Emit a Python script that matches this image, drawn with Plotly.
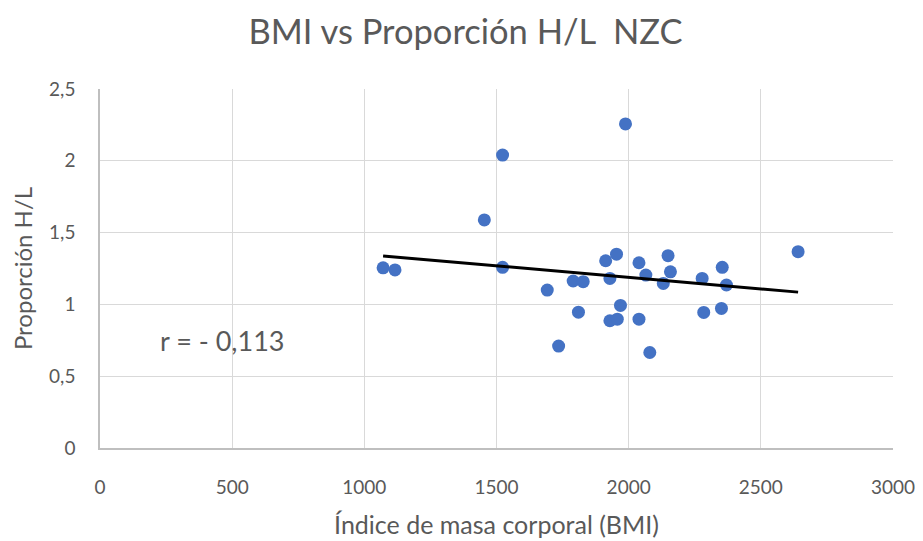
import numpy as np
import plotly.graph_objects as go

bmi = [1071, 1116, 1454, 1523, 1523, 1692, 1735, 1790, 1810, 1828,
       1913, 1929, 1929, 1954, 1957, 1969, 1988, 2039, 2039, 2065,
       2080, 2131, 2149, 2158, 2278, 2284, 2351, 2354, 2370, 2641]
ratio = [1.255, 1.24, 1.588, 2.04, 1.258, 1.10, 0.71, 1.163, 0.946, 1.158,
         1.304, 1.181, 0.886, 1.35, 0.897, 0.993, 2.257, 1.29, 0.897, 1.204,
         0.665, 1.146, 1.339, 1.227, 1.181, 0.944, 0.972, 1.258, 1.135, 1.367]

title = "BMI vs Proporción H/L  NZC"
x_title = "Índice de masa corporal (BMI)"
y_title = "Proporción H/L"
r_label = "r = - 0,113"

slope, intercept = np.polyfit(bmi, ratio, 1)
xt = [min(bmi), max(bmi)]
yt = [slope * v + intercept for v in xt]

FONT = "Lato"
GRAY = "#595959"

fig = go.Figure()
fig.add_trace(go.Scatter(x=bmi, y=ratio, mode="markers",
                         marker=dict(color="#4472C4", size=13), showlegend=False))
fig.add_trace(go.Scatter(x=xt, y=yt, mode="lines",
                         line=dict(color="black", width=3), showlegend=False))

fig.update_layout(
    width=915, height=533,
    margin=dict(l=92, r=30, t=81, b=93),
    paper_bgcolor="white", plot_bgcolor="white",
    separators=", ",
    font=dict(family=FONT, color=GRAY),
    title=dict(text=title, x=0.5, xanchor="center", y=0.955, yanchor="middle",
               font=dict(family=FONT, size=34.5, color=GRAY)),
    annotations=[dict(text=r_label, xref="x", yref="y", x=460, y=0.751,
                      showarrow=False, font=dict(family=FONT, size=27, color=GRAY))],
)
fig.update_xaxes(range=[0, 3000], dtick=500, tick0=0, showgrid=True,
                 gridcolor="#D9D9D9", gridwidth=1, zeroline=False,
                 showline=True, linecolor="#BFBFBF", linewidth=1.5,
                 ticks="", ticklabelstandoff=21, automargin=False,
                 tickfont=dict(family=FONT, size=19, color=GRAY),
                 title=dict(text=x_title, standoff=20,
                            font=dict(family=FONT, size=25, color=GRAY)))
fig.update_yaxes(range=[0, 2.5], dtick=0.5, tick0=0, showgrid=True,
                 gridcolor="#D9D9D9", gridwidth=1, zeroline=False,
                 showline=True, linecolor="#BFBFBF", linewidth=1.5,
                 ticks="", ticklabelstandoff=19, automargin=False,
                 tickfont=dict(family=FONT, size=19, color=GRAY),
                 title=dict(text=y_title, standoff=14,
                            font=dict(family=FONT, size=24, color=GRAY)))

fig.write_html("out.html")
